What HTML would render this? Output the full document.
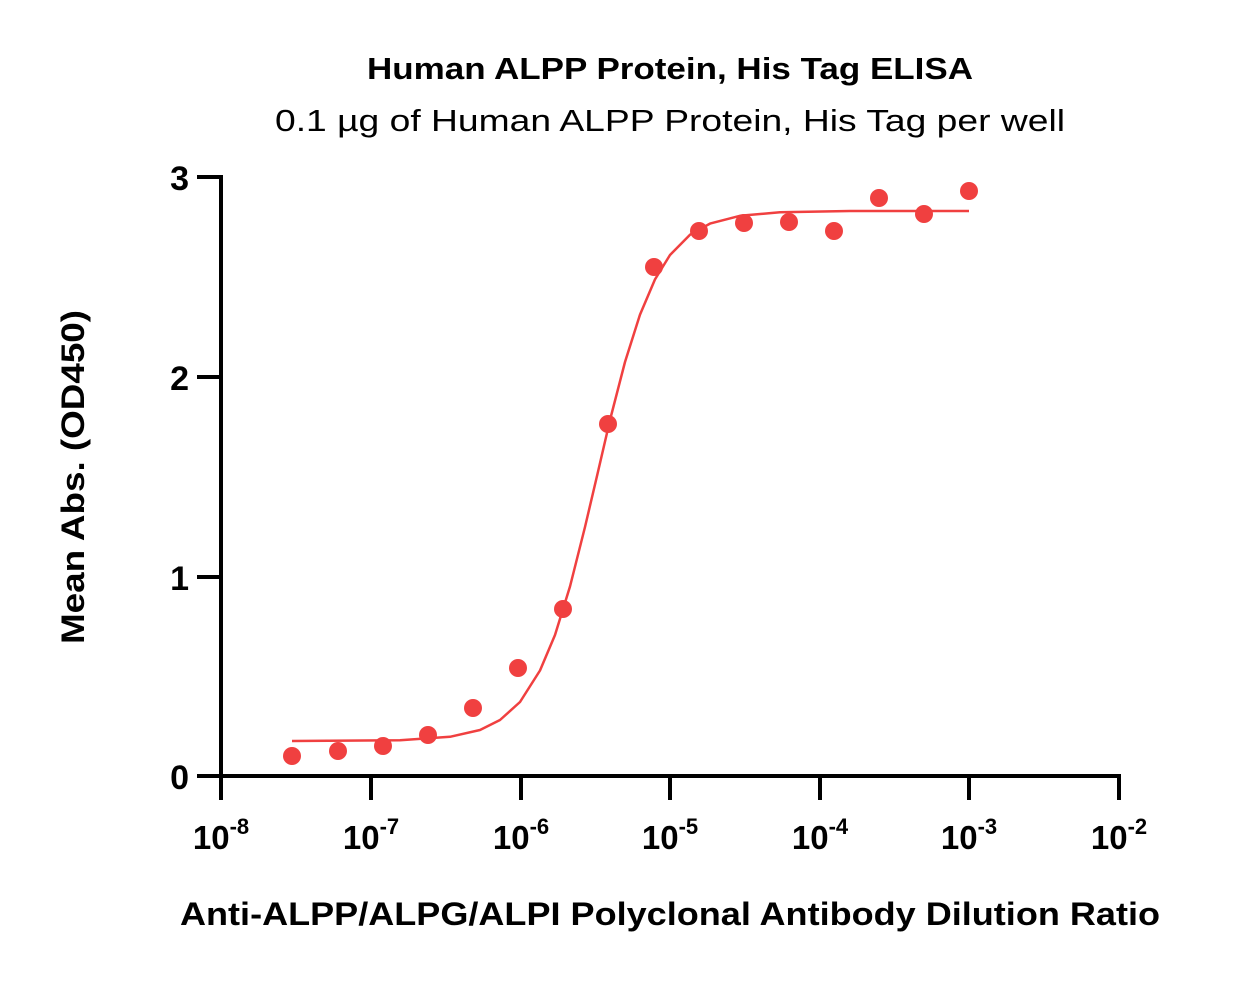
<!DOCTYPE html>
<html><head><meta charset="utf-8"><style>
html,body{margin:0;padding:0;background:#fff;}
svg{display:block;font-family:"Liberation Sans",sans-serif;}
</style></head><body>
<svg width="1245" height="981" viewBox="0 0 1245 981" xmlns="http://www.w3.org/2000/svg">
<text x="670" y="79" text-anchor="middle" font-size="31" font-weight="bold" textLength="606" lengthAdjust="spacingAndGlyphs">Human ALPP Protein, His Tag ELISA</text>
<text x="670" y="131" text-anchor="middle" font-size="31" textLength="790" lengthAdjust="spacingAndGlyphs">0.1 µg of Human ALPP Protein, His Tag per well</text>
<g stroke="#000" stroke-width="4" fill="none">
<line x1="221" y1="175" x2="221" y2="778"/>
<line x1="219" y1="776" x2="1121" y2="776"/>
<line x1="197" y1="177" x2="221" y2="177"/>
<line x1="197" y1="377" x2="221" y2="377"/>
<line x1="197" y1="577" x2="221" y2="577"/>
<line x1="197" y1="776" x2="221" y2="776"/>
<line x1="221" y1="776" x2="221" y2="800"/>
<line x1="371" y1="776" x2="371" y2="800"/>
<line x1="521" y1="776" x2="521" y2="800"/>
<line x1="670" y1="776" x2="670" y2="800"/>
<line x1="820" y1="776" x2="820" y2="800"/>
<line x1="969" y1="776" x2="969" y2="800"/>
<line x1="1119" y1="776" x2="1119" y2="800"/>
</g>
<g font-size="34" font-weight="bold" text-anchor="end">
<text x="189" y="190">3</text>
<text x="189" y="390">2</text>
<text x="189" y="590">1</text>
<text x="189" y="789">0</text>
</g>
<g font-size="33" font-weight="bold" text-anchor="middle">
<text x="221" y="849">10<tspan dy="-15" font-size="22">-8</tspan></text>
<text x="371" y="849">10<tspan dy="-15" font-size="22">-7</tspan></text>
<text x="521" y="849">10<tspan dy="-15" font-size="22">-6</tspan></text>
<text x="670" y="849">10<tspan dy="-15" font-size="22">-5</tspan></text>
<text x="820" y="849">10<tspan dy="-15" font-size="22">-4</tspan></text>
<text x="969" y="849">10<tspan dy="-15" font-size="22">-3</tspan></text>
<text x="1119" y="849">10<tspan dy="-15" font-size="22">-2</tspan></text>
</g>
<text x="670" y="925" text-anchor="middle" font-size="32" font-weight="bold" textLength="980" lengthAdjust="spacingAndGlyphs">Anti-ALPP/ALPG/ALPI Polyclonal Antibody Dilution Ratio</text>
<text transform="translate(84,477) rotate(-90)" text-anchor="middle" font-size="32" font-weight="bold" textLength="334" lengthAdjust="spacingAndGlyphs">Mean Abs. (OD450)</text>
<polyline fill="none" stroke="#f04040" stroke-width="2.5" stroke-linejoin="round" points="292,741 400,740.2 450,736.8 480,730 500,720 520,702 540,670.5 555,635 570,586.5 585,527 597,476 610,420 625,362 640,314.6 655,279.4 670,255 690,234.7 710,223.6 740,215.8 780,212.3 850,211 969,211"/>
<g fill="#f04040">
<circle cx="292" cy="756" r="9"/><circle cx="338" cy="751" r="9"/><circle cx="383" cy="746" r="9"/><circle cx="428" cy="735" r="9"/><circle cx="473" cy="708" r="9"/><circle cx="518" cy="668" r="9"/><circle cx="563" cy="609" r="9"/><circle cx="608" cy="424" r="9"/><circle cx="654" cy="267" r="9"/><circle cx="699" cy="231" r="9"/><circle cx="744" cy="223" r="9"/><circle cx="789" cy="222" r="9"/><circle cx="834" cy="231" r="9"/><circle cx="879" cy="198" r="9"/><circle cx="924" cy="214" r="9"/><circle cx="969" cy="191" r="9"/>
</g>
</svg>
</body></html>
